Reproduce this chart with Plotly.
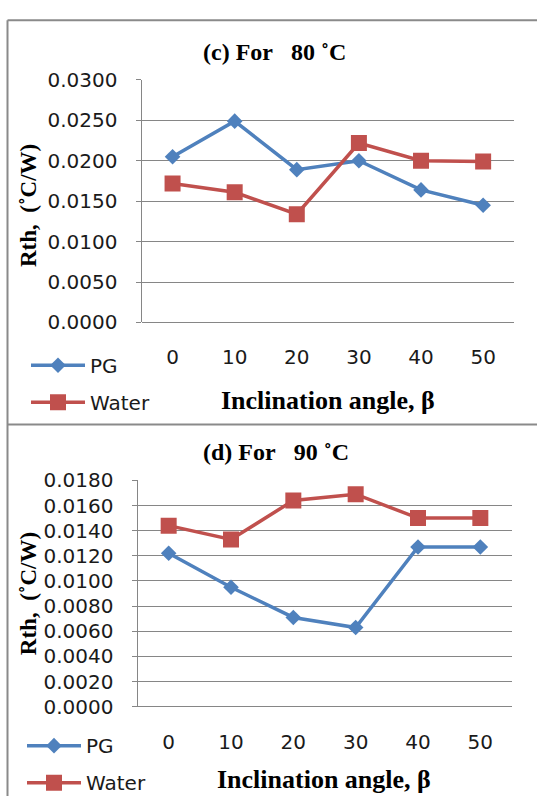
import plotly.graph_objects as go

W, H = 537, 808

angles = ["0", "10", "20", "30", "40", "50"]
pg_80 = [0.0205, 0.0249, 0.0189, 0.0200, 0.0164, 0.0145]
water_80 = [0.0172, 0.0161, 0.0134, 0.0222, 0.0200, 0.0199]
pg_90 = [0.0122, 0.0095, 0.0071, 0.0063, 0.0127, 0.0127]
water_90 = [0.0144, 0.0133, 0.0164, 0.0169, 0.0150, 0.0150]

title_c = "(c) For\u00a0\u00a0 80 \u02daC"
title_d = "(d) For\u00a0\u00a0 90 \u02daC"
ytitle = "Rth,\u00a0\u00a0(\u02daC/W)"
xtitle = "Inclination angle, \u03b2"

BLUE = "#4F81BD"
RED = "#C0504D"
GRID = "#868686"
SANS = "DejaVu Sans"
SERIF = "Liberation Serif"


def fx(p):
    return p / W


def fy(p):
    return 1 - p / H


fig = go.Figure()

common_line = dict(width=3.5)
fig.add_trace(go.Scatter(x=angles, y=pg_80, name="PG", mode="lines+markers",
                         line=dict(color=BLUE, **common_line),
                         marker=dict(symbol="diamond", size=12, color=BLUE),
                         xaxis="x", yaxis="y", legend="legend", legendgroup="a"))
fig.add_trace(go.Scatter(x=angles, y=water_80, name="Water", mode="lines+markers",
                         line=dict(color=RED, **common_line),
                         marker=dict(symbol="square", size=16, color=RED),
                         xaxis="x", yaxis="y", legend="legend", legendgroup="b"))
fig.add_trace(go.Scatter(x=angles, y=pg_90, name="PG", mode="lines+markers",
                         line=dict(color=BLUE, **common_line),
                         marker=dict(symbol="diamond", size=12, color=BLUE),
                         xaxis="x2", yaxis="y2", legend="legend2", legendgroup="c"))
fig.add_trace(go.Scatter(x=angles, y=water_90, name="Water", mode="lines+markers",
                         line=dict(color=RED, **common_line),
                         marker=dict(symbol="square", size=16, color=RED),
                         xaxis="x2", yaxis="y2", legend="legend2", legendgroup="d"))

TICKFONT = dict(family=SANS, size=20, color="#1a1a1a")
xcommon = dict(type="category", range=[-0.5, 5.5], showgrid=False, showline=False,
               zeroline=False, ticks="", tickfont=TICKFONT,
               ticklabelstandoff=21, fixedrange=True)
ycommon = dict(showgrid=True, gridcolor=GRID, gridwidth=1, showline=True, linecolor=GRID,
               linewidth=1, ticks="outside", ticklen=5, tickcolor=GRID, tickformat=".4f",
               zeroline=True, zerolinecolor=GRID, zerolinewidth=1,
               tickfont=TICKFONT, ticklabelstandoff=14, fixedrange=True)

legcommon = dict(font=dict(family=SANS, size=20, color="#1a1a1a"), bgcolor="rgba(0,0,0,0)",
                 traceorder="grouped", tracegroupgap=8, xanchor="left", yanchor="top",
                 itemwidth=54)

fig.update_layout(
    width=W, height=H, margin=dict(l=0, r=0, t=0, b=0),
    paper_bgcolor="white", plot_bgcolor="white",
    xaxis=dict(domain=[fx(141.5), fx(514.2)], anchor="y", **xcommon),
    yaxis=dict(domain=[fy(320), fy(70)], anchor="x", range=[0, 0.03], dtick=0.005, **ycommon),
    xaxis2=dict(domain=[fx(137.5), fx(511.5)], anchor="y2", **xcommon),
    yaxis2=dict(domain=[fy(716), fy(482.7)], anchor="x2", range=[0, 0.018], dtick=0.002, **ycommon),
    legend=dict(x=fx(26), y=fy(344), **legcommon),
    legend2=dict(x=fx(22), y=fy(736), **legcommon),
    showlegend=True,
)

ann = [
    dict(text=title_c, x=fx(274), y=fy(41), size=24),
    dict(text=title_d, x=fx(275.6), y=fy(453), size=24),
    dict(text=xtitle, x=fx(328), y=fy(400), size=26),
    dict(text=xtitle, x=fx(324), y=fy(791), size=26),
    dict(text=ytitle, x=fx(28), y=fy(200), size=23, textangle=-90),
    dict(text=ytitle, x=fx(28), y=fy(600), size=23, textangle=-90),
]
for a in ann:
    size = a.pop("size")
    fig.add_annotation(xref="paper", yref="paper", xanchor="center", yanchor="middle",
                       showarrow=False,
                       font=dict(family=SERIF, size=size, color="black", weight="bold"), **a)

BORDER = dict(color="#8a8a8a", width=2)
fig.add_shape(type="line", xref="paper", yref="paper", x0=fx(7.5), y0=fy(8.5), x1=1, y1=fy(8.5),
              line=BORDER, layer="above")
fig.add_shape(type="line", xref="paper", yref="paper", x0=fx(7.5), y0=fy(425), x1=1, y1=fy(425),
              line=BORDER, layer="above")
fig.add_shape(type="line", xref="paper", yref="paper", x0=fx(7.5), y0=fy(8.5), x1=fx(7.5), y1=0,
              line=BORDER, layer="above")

fig.write_html("out.html", config={"displayModeBar": False},
               post_script="document.body.style.margin='0';document.body.style.overflow='hidden';")
